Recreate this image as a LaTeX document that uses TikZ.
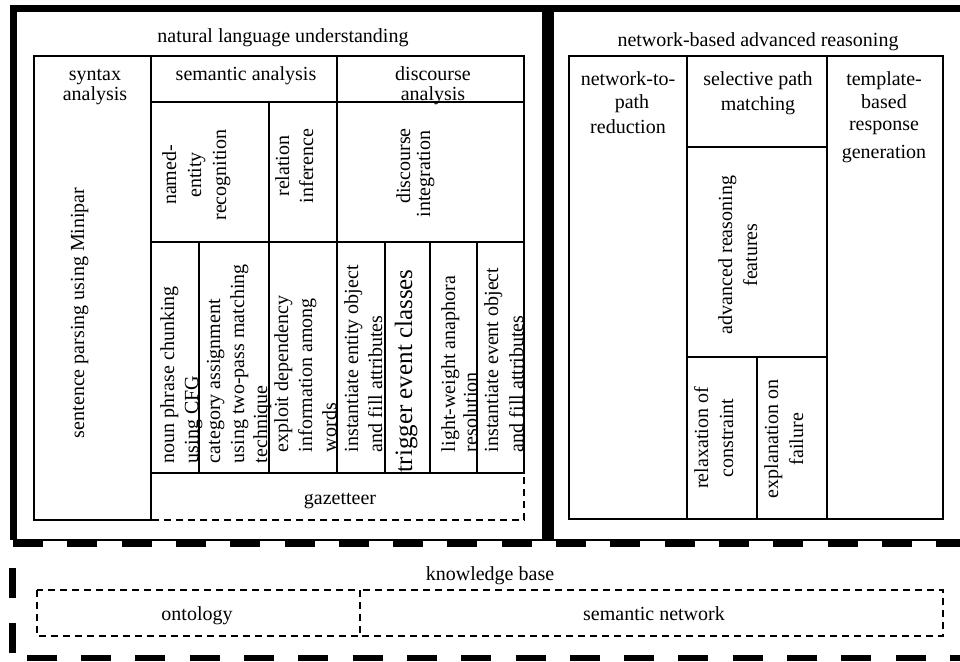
\documentclass[tikz,border=0pt]{standalone}
\usepackage{fontspec}
\setmainfont{Liberation Serif}
\begin{document}
\begin{tikzpicture}[x=1pt,y=-1pt,
  lbl/.style={inner sep=0pt, outer sep=0pt, font=\fontsize{20}{24}\selectfont, anchor=base},
  vlbl/.style={lbl, rotate=90},
  vstart/.style={vlbl, anchor=base west},
  cellline/.style={line width=1.4pt},
  thindash/.style={line width=1.4pt, dash pattern=on 7pt off 5pt},
  boxedge/.style={line width=7pt, line join=miter},
  kbdash/.style={line width=6.5pt, dash pattern=on 30pt off 24.3pt}]
\useasboundingbox (0,0) rectangle (960,661);
\clip (0,0) rectangle (960,661);
\fill[white] (0,0) rectangle (960,661);

% ---------- outer boxes ----------
\draw[boxedge] (13,540) -- (13,9) -- (545,9) -- (545,540);
\draw[boxedge] (550,540) -- (550,9) -- (970,9);
\draw[cellline] (13,540) -- (970,540);

% ---------- knowledge base frame ----------
\draw[kbdash] (13,544) -- (970,544);
\draw[kbdash, line width=7.5pt, dash phase=30pt] (12.5,544) -- (12.5,665);
\draw[kbdash, dash phase=40pt] (12.5,658) -- (970,658);

% ---------- NLU table ----------
\draw[cellline] (34,56) rectangle (151,520);
\draw[cellline] (151,56) rectangle (337,102);
\draw[cellline] (337,56) rectangle (524,102);
\draw[cellline] (151,102) rectangle (269,242);
\draw[cellline] (269,102) rectangle (337,242);
\draw[cellline] (337,102) rectangle (524,242);
\draw[cellline] (151,242) rectangle (199,473);
\draw[cellline] (199,242) rectangle (269,473);
\draw[cellline] (269,242) rectangle (337,473);
\draw[cellline] (337,242) rectangle (385,473);
\draw[cellline] (385,242) rectangle (430,473);
\draw[cellline] (430,242) rectangle (477,473);
\draw[cellline] (477,242) rectangle (524,473);
\draw[thindash] (151,473) rectangle (524,520);

% ---------- reasoning table ----------
\draw[cellline] (569,56) rectangle (687,519);
\draw[cellline] (687,56) rectangle (827,147);
\draw[cellline] (687,147) rectangle (827,357);
\draw[cellline] (687,357) rectangle (757,519);
\draw[cellline] (757,357) rectangle (827,519);
\draw[cellline] (827,56) rectangle (943,519);

% ---------- knowledge base cells ----------
\draw[thindash] (37,590) rectangle (360,636);
\draw[thindash] (360,590) rectangle (943,636);

% ---------- titles ----------
\node[lbl] (nlu) at (283,43) {natural language understanding};
\node[lbl] (nbar) at (758,46) {network-based advanced reasoning};
\node[lbl] (kb) at (490,580) {knowledge base};

% ---------- NLU headers ----------
\node[lbl] (syn1) at (95,80) {syntax};
\node[lbl] (syn2) at (95,100) {analysis};
\node[lbl] (sem) at (246,80) {semantic analysis};
\node[lbl] (dis1) at (433,80) {discourse};
\node[lbl] (dis2) at (433,100) {analysis};

% ---------- NLU upper row ----------
\node[vstart] (parse) at (84,438) {sentence parsing using Minipar};
\node[vlbl] (ner1) at (176,175) {named-};
\node[vlbl] (ner2) at (201,175) {entity};
\node[vlbl] (ner3) at (226,175) {recognition};
\node[vlbl] (rel1) at (289,166) {relation};
\node[vlbl] (rel2) at (313,166) {inference};
\node[vlbl] (di1) at (410,166) {discourse};
\node[vlbl] (di2) at (430,174) {integration};

% ---------- NLU lower row ----------
\node[vstart] (np1) at (174,463) {noun phrase chunking};
\node[vstart] (np2) at (198,463) {using CFG};
\node[vstart] (ca1) at (220,463) {category assignment};
\node[vstart] (ca2) at (244,463) {using two-pass matching};
\node[vstart] (ca3) at (267,463) {technique};
\node[vstart] (ex1) at (288,452) {exploit dependency};
\node[vstart] (ex2) at (312,452) {information among};
\node[vstart] (ex3) at (336,452) {words};
\node[vstart] (ie1) at (358,452) {instantiate entity object};
\node[vstart] (ie2) at (382,452) {and fill attributes};
\node[vstart, font=\fontsize{25}{30}\selectfont] (trig) at (412,472) {trigger event classes};
\node[vstart] (lw1) at (455,452) {light-weight anaphora};
\node[vstart] (lw2) at (477,452) {resolution};
\node[vstart] (iv1) at (498,452) {instantiate event object};
\node[vstart] (iv2) at (523,452) {and fill attributes};
\node[lbl] (gaz) at (340,504) {gazetteer};

% ---------- reasoning texts ----------
\node[lbl] (ntp1) at (628,85) {network-to-};
\node[lbl] (ntp2) at (632,108) {path};
\node[lbl] (ntp3) at (628,133) {reduction};
\node[lbl] (spm1) at (758,85) {selective path};
\node[lbl] (spm2) at (758,110) {matching};
\node[lbl] (tb1) at (884,85) {template-};
\node[lbl] (tb2) at (884,108) {based};
\node[lbl] (tb3) at (884,130) {response};
\node[lbl] (tb4) at (884,158) {generation};
\node[vlbl] (arf1) at (732,255) {advanced reasoning};
\node[vlbl] (arf2) at (757,255) {features};
\node[vlbl] (rc1) at (708,438) {relaxation of};
\node[vlbl] (rc2) at (733,438) {constraint};
\node[vlbl] (ef1) at (778,439) {explanation on};
\node[vlbl] (ef2) at (803,439) {failure};

% ---------- knowledge base texts ----------
\node[lbl] (onto) at (197,620) {ontology};
\node[lbl] (semnet) at (654,620) {semantic network};
\end{tikzpicture}
\end{document}
